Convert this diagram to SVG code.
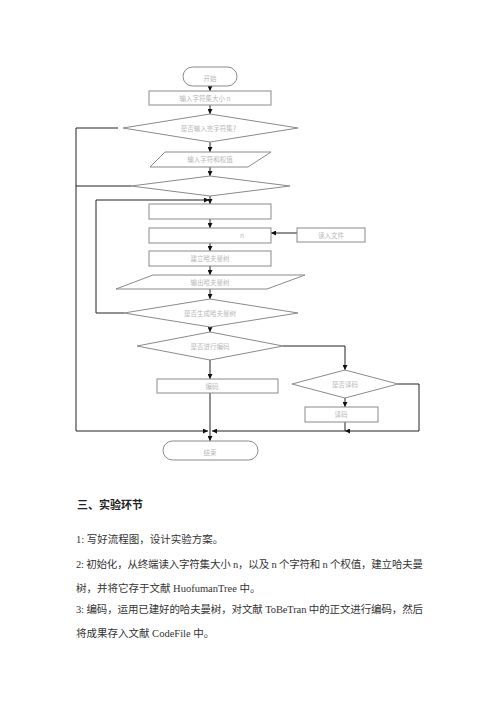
<svg xmlns="http://www.w3.org/2000/svg" width="500" height="707" viewBox="0 0 500 707">
<style>
.sh{fill:#fff;stroke:#8a8a8a;stroke-width:1}
.ln{fill:none;stroke:#222;stroke-width:1}
.lb{font-family:"Noto Sans CJK SC",sans-serif;font-size:6.5px;fill:#b8b8b8;text-anchor:middle}
.bd{font-family:"Liberation Serif","Noto Sans CJK SC",serif;font-size:10.5px;fill:#333}
.hd{font-family:"Liberation Serif","Noto Sans CJK SC",serif;font-size:11px;font-weight:bold;fill:#222}
</style>
<defs>
<marker id="ar" viewBox="0 0 10 10" refX="10" refY="5" markerWidth="5" markerHeight="5" orient="auto" markerUnits="userSpaceOnUse">
<path d="M0,0 L10,5 L0,10 z" fill="#111"/>
</marker>
</defs>
<rect width="500" height="707" fill="#fff"/>
<g id="connectors">
<line class="ln" x1="210" y1="86" x2="210" y2="91" marker-end="url(#ar)"/>
<line class="ln" x1="210" y1="105" x2="210" y2="114" marker-end="url(#ar)"/>
<line class="ln" x1="210" y1="142" x2="210" y2="152" marker-end="url(#ar)"/>
<line class="ln" x1="210" y1="167" x2="210" y2="176" marker-end="url(#ar)"/>
<line class="ln" x1="210" y1="196" x2="210" y2="204" marker-end="url(#ar)"/>
<line class="ln" x1="210" y1="219" x2="210" y2="228" marker-end="url(#ar)"/>
<line class="ln" x1="210" y1="243" x2="210" y2="251" marker-end="url(#ar)"/>
<line class="ln" x1="210" y1="266" x2="210" y2="275" marker-end="url(#ar)"/>
<line class="ln" x1="210" y1="289" x2="210" y2="299" marker-end="url(#ar)"/>
<line class="ln" x1="210" y1="327" x2="210" y2="332" marker-end="url(#ar)"/>
<line class="ln" x1="210" y1="360" x2="210" y2="379" marker-end="url(#ar)"/>
<line class="ln" x1="210" y1="393" x2="210" y2="441" marker-end="url(#ar)"/>
<line class="ln" x1="297" y1="233" x2="271" y2="233" marker-end="url(#ar)"/>
<polyline class="ln" points="124,313 96,313 96,200 209,200" marker-end="url(#ar)"/>
<polyline class="ln" points="118,128 76,128 76,431 208,431" marker-end="url(#ar)"/>
<line class="ln" x1="76" y1="186" x2="131" y2="186"/>
<polyline class="ln" points="283,346 345,346 345,370" marker-end="url(#ar)"/>
<line class="ln" x1="345" y1="398" x2="345" y2="407" marker-end="url(#ar)"/>
<line class="ln" x1="345" y1="422" x2="345" y2="431"/>
<polyline class="ln" points="398,384 419,384 419,431 345,431" marker-end="url(#ar)"/>
<line class="ln" x1="345" y1="431" x2="212" y2="431" marker-end="url(#ar)"/>
</g>
<g id="start"><rect class="sh" x="183" y="67" width="54" height="19" rx="9.5"/><text class="lb" x="210" y="81">开始</text></g>
<g id="init"><rect class="sh" x="149" y="91" width="122" height="14"/><text class="lb" x="205" y="101">输入字符集大小 n</text></g>
<g id="dec1"><polygon class="sh" points="123,128 210,114 298,128 210,142"/><text class="lb" x="210" y="131">是否输入完字符集？</text></g>
<g id="in1"><polygon class="sh" points="165,152 271,152 248,167 150,167"/><text class="lb" x="210" y="162">输入字符和权值</text></g>
<g id="dec2"><polygon class="sh" points="131,186 210,176 290,186 210,196"/></g>
<g id="r2"><rect class="sh" x="149" y="204" width="122" height="15"/></g>
<g id="r3"><rect class="sh" x="149" y="228" width="122" height="15"/><text class="lb" x="242" y="238">n</text></g>
<g id="side"><rect class="sh" x="297" y="228" width="68" height="14"/><text class="lb" x="331" y="238">读入文件</text></g>
<g id="r4"><rect class="sh" x="149" y="251" width="122" height="15"/><text class="lb" x="210" y="261">建立哈夫曼树</text></g>
<g id="in2"><polygon class="sh" points="153,275 305,275 267,289 116,289"/><text class="lb" x="210" y="285">输出哈夫曼树</text></g>
<g id="dec3"><polygon class="sh" points="124,313 210,299 298,313 210,327"/><text class="lb" x="210" y="316">是否生成哈夫曼树</text></g>
<g id="dec4"><polygon class="sh" points="137,346 210,332 283,346 210,360"/><text class="lb" x="210" y="349">是否进行编码</text></g>
<g id="r5"><rect class="sh" x="157" y="379" width="121" height="14"/><text class="lb" x="212" y="389">编码</text></g>
<g id="dec5"><polygon class="sh" points="292,384 345,370 398,384 345,398"/><text class="lb" x="345" y="387">是否译码</text></g>
<g id="r6"><rect class="sh" x="305" y="407" width="73" height="15"/><text class="lb" x="341" y="417">译码</text></g>
<g id="end"><rect class="sh" x="163" y="441" width="95" height="19" rx="9.5"/><text class="lb" x="210" y="455">结束</text></g>
<g id="body">
<text class="hd" x="77" y="509">三、实验环节</text>
<text class="bd" x="76" y="543">1:  写好流程图，设计实验方案。</text>
<text class="bd" x="76" y="568" textLength="347" lengthAdjust="spacing">2:  初始化，从终端读入字符集大小 n，以及 n 个字符和 n 个权值，建立哈夫曼</text>
<text class="bd" x="76" y="592">树，并将它存于文献 HuofumanTree 中。</text>
<text class="bd" x="76" y="613" textLength="347" lengthAdjust="spacing">3:  编码，运用已建好的哈夫曼树，对文献 ToBeTran 中的正文进行编码，然后</text>
<text class="bd" x="76" y="637">将成果存入文献 CodeFile 中。</text>
</g>
</svg>
